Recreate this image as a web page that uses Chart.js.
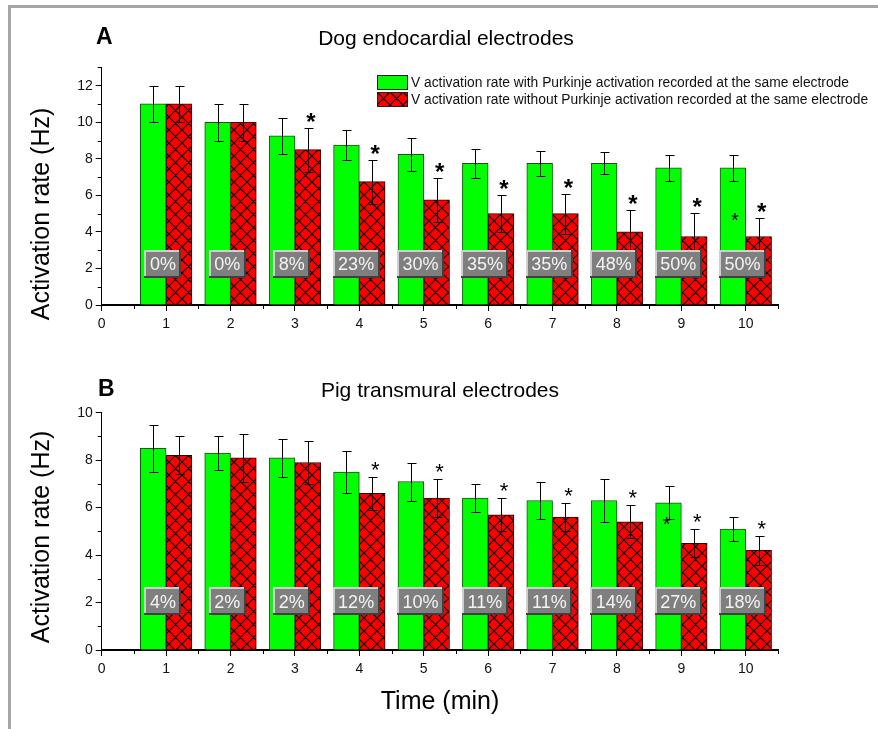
<!DOCTYPE html>
<html>
<head>
<meta charset="utf-8">
<title>Activation rate</title>
<script src="https://cdn.jsdelivr.net/npm/chart.js@4.4.1/dist/chart.umd.min.js"></script>
<style>
  body { margin: 0; background: #fff; font-family: 'Liberation Sans', Arial, sans-serif; color: #000; }
  #page { position: relative; width: 878px; height: 729px; overflow: hidden; background: #fff; }
  .plot { position: absolute; left: 0; }
  .txt { position: absolute; white-space: nowrap; line-height: 1; }
  .panel { font-weight: bold; font-size: 23px; }
  .title { font-size: 21px; transform: translateX(-50%); }
  .ytitle { font-size: 25px; transform: translate(-50%, -50%) rotate(-90deg); }
  .xtitle { font-size: 25px; transform: translateX(-50%); }
  .legtxt { font-size: 13.8px; color: #111; }
  .frame { position: absolute; background: #a6a6a6; }
</style>
</head>
<body>
<div id="page">
  <div class="frame" style="left:8px;top:5px;width:870px;height:3px"></div>
  <div class="frame" style="left:8px;top:5px;width:3px;height:724px"></div>

  <canvas id="chartA" class="plot" width="878" height="345" style="top:0"></canvas>
  <canvas id="chartB" class="plot" width="878" height="345" style="top:345px"></canvas>

  <div class="txt panel" style="left:96px;top:25px">A</div>
  <div class="txt title" style="left:446px;top:27px">Dog endocardial electrodes</div>
  <div class="txt panel" style="left:98px;top:377px">B</div>
  <div class="txt title" style="left:440px;top:379px">Pig transmural electrodes</div>

  <div class="txt ytitle" style="left:40px;top:214px">Activation rate (Hz)</div>
  <div class="txt ytitle" style="left:40px;top:537px">Activation rate (Hz)</div>
  <div class="txt xtitle" style="left:440px;top:688px">Time (min)</div>

  <div style="position:absolute;left:377px;top:75px;width:29px;height:13px;background:#00ff00;border:1px solid #222"></div>
  <canvas id="swatchRed" width="31" height="15" style="position:absolute;left:377px;top:92px"></canvas>
  <div class="txt legtxt" style="left:411px;top:75.5px">V activation rate with Purkinje activation recorded at the same electrode</div>
  <div class="txt legtxt" style="left:411px;top:92.5px">V activation rate without Purkinje activation recorded at the same electrode</div>
</div>

<script>
// --- data ---
const minutes = [1, 2, 3, 4, 5, 6, 7, 8, 9, 10];

// A: dog endocardial electrodes
const dogWith = [11, 10, 9.25, 8.75, 8.25, 7.75, 7.75, 7.75, 7.5, 7.5];
const dogWithErr = [1, 1, 1, 0.8, 0.9, 0.8, 0.7, 0.6, 0.7, 0.7];
const dogWithout = [11, 10, 8.5, 6.75, 5.75, 5, 5, 4, 3.75, 3.75];
const dogWithoutErr = [1, 1, 1.2, 1.2, 1.2, 1, 1.1, 1.2, 1.3, 1];
const dogPercent = ['0%', '0%', '8%', '23%', '30%', '35%', '35%', '48%', '50%', '50%'];
const dogSignificant = [false, false, true, true, true, true, true, true, true, true];

// B: pig transmural electrodes
const pigWith = [8.5, 8.3, 8.1, 7.5, 7.1, 6.4, 6.3, 6.3, 6.2, 5.1];
const pigWithErr = [1, 0.7, 0.8, 0.9, 0.8, 0.6, 0.8, 0.9, 0.7, 0.5];
const pigWithout = [8.2, 8.1, 7.9, 6.6, 6.4, 5.7, 5.6, 5.4, 4.5, 4.2];
const pigWithoutErr = [0.8, 1, 0.9, 0.7, 0.8, 0.7, 0.6, 0.7, 0.6, 0.6];
const pigPercent = ['4%', '2%', '2%', '12%', '10%', '11%', '11%', '14%', '27%', '18%'];
const pigSignificant = [false, false, false, true, true, true, true, true, true, true];

// axis ticks
const xTicks = [0, 1, 2, 3, 4, 5, 6, 7, 8, 9, 10];
const yTicksA = [0, 2, 4, 6, 8, 10, 12];
const yTicksB = [0, 2, 4, 6, 8, 10];

const FONT = "'Liberation Sans', Arial, sans-serif";
Chart.defaults.font.family = FONT;

// red fill with black diamond cross-hatch
function makeHatch(ctx) {
    const s = 13;
    const c = document.createElement('canvas');
    c.width = s; c.height = s;
    const g = c.getContext('2d');
    g.fillStyle = '#ff0000';
    g.fillRect(0, 0, s, s);
    g.strokeStyle = '#000';
    g.lineWidth = 1.1;
    g.beginPath();
    for (let k = -1; k <= 1; k++) {
        g.moveTo(k * s - 2, -2); g.lineTo(k * s + s + 2, s + 2);
        g.moveTo(k * s + s + 2, -2); g.lineTo(k * s - 2, s + 2);
    }
    g.stroke();
    return ctx.createPattern(c, 'repeat');
}

// error bars, percentage boxes, asterisks, minor ticks
const overlay = {
    id: 'overlay',
    afterDatasetsDraw(chart, args, o) {
        const ctx = chart.ctx;
        const xs = chart.scales.x;
        const ys = chart.scales.y;
        ctx.save();

        // error bars
        ctx.strokeStyle = '#000';
        ctx.lineWidth = 1;
        chart.data.datasets.forEach((ds, di) => {
            const errs = o.errors[di];
            chart.getDatasetMeta(di).data.forEach((bar, i) => {
                const v = ds.data[i].y;
                const cx = Math.round(bar.x) + 0.5;
                const t = Math.round(ys.getPixelForValue(v + errs[i])) + 0.5;
                const b = Math.round(ys.getPixelForValue(v - errs[i])) + 0.5;
                ctx.beginPath();
                ctx.moveTo(cx, t); ctx.lineTo(cx, b);
                ctx.moveTo(cx - 4, t); ctx.lineTo(cx + 5, t);
                ctx.moveTo(cx - 4, b); ctx.lineTo(cx + 5, b);
                ctx.stroke();
            });
        });

        // percentage boxes
        ctx.font = '18px ' + FONT;
        ctx.textAlign = 'center';
        ctx.textBaseline = 'alphabetic';
        o.labels.forEach((txt, i) => {
            const cx = xs.getPixelForValue(minutes[i] + o.labelShift);
            const cy = ys.getPixelForValue(o.labelY);
            const w = Math.round(ctx.measureText(txt).width + 11);
            const h = 28;
            const l = Math.round(cx - w / 2);
            const t = Math.round(cy - h / 2);
            ctx.fillStyle = '#7f7f7f';
            ctx.fillRect(l, t, w, h);
            ctx.fillStyle = '#cfcfcf';
            ctx.fillRect(l, t, w, 2);
            ctx.fillRect(l, t, 2, h);
            ctx.fillStyle = '#404040';
            ctx.fillRect(l, t + h - 2, w, 2);
            ctx.fillRect(l + w - 2, t, 2, h);
            ctx.fillStyle = '#f4f4f4';
            ctx.fillText(txt, cx, cy + 6.5);
        });

        // significance asterisks above the red bars
        const red = chart.getDatasetMeta(1).data;
        const redVals = chart.data.datasets[1].data;
        ctx.fillStyle = '#000';
        ctx.font = o.starFont;
        o.stars.forEach((on, i) => {
            if (!on) return;
            const top = ys.getPixelForValue(redVals[i].y + o.errors[1][i]);
            ctx.fillText('*', red[i].x + 3, top - o.starGap + 0.59 * o.starSize);
        });
        ctx.font = '20px ' + FONT;
        o.extra.forEach(p => {
            ctx.fillText('*', xs.getPixelForValue(p.x), ys.getPixelForValue(p.y) + 0.59 * 20);
        });

        ctx.restore();
    },
    afterDraw(chart) {
        const ctx = chart.ctx;
        const xs = chart.scales.x;
        const ys = chart.scales.y;
        const a = chart.chartArea;
        ctx.save();
        ctx.strokeStyle = '#000';
        ctx.lineWidth = 1;
        ctx.beginPath();
        for (let v = 0.5; v <= xs.max + 0.01; v += 1) {
            const px = Math.round(xs.getPixelForValue(v)) + 0.5;
            ctx.moveTo(px, a.bottom); ctx.lineTo(px, a.bottom + 4);
        }
        for (let v = 1; v <= ys.max + 0.01; v += 2) {
            const py = Math.round(ys.getPixelForValue(v)) + 0.5;
            ctx.moveTo(a.left, py); ctx.lineTo(a.left - 4, py);
        }
        ctx.stroke();
        ctx.restore();
    }
};

function buildChart(id, withVals, withoutVals, yMax, yTicks, plotTop, extra) {
    const canvas = document.getElementById(id);
    const ctx = canvas.getContext('2d');
    const hatch = makeHatch(ctx);
    return new Chart(ctx, {
        type: 'bar',
        data: {
            datasets: [{
                label: 'V activation rate with Purkinje activation recorded at the same electrode',
                data: minutes.map((m, i) => ({ x: m - 0.2, y: withVals[i] })),
                backgroundColor: '#00ff00',
                borderColor: '#1d4d1d',
                borderWidth: 1,
                borderSkipped: 'bottom',
                grouped: false,
                barPercentage: 1,
                categoryPercentage: 1
            }, {
                label: 'V activation rate without Purkinje activation recorded at the same electrode',
                data: minutes.map((m, i) => ({ x: m + 0.2, y: withoutVals[i] })),
                backgroundColor: hatch,
                borderColor: '#300000',
                borderWidth: 1,
                borderSkipped: 'bottom',
                grouped: false,
                barPercentage: 1,
                categoryPercentage: 1
            }]
        },
        options: {
            responsive: false,
            animation: false,
            devicePixelRatio: 1,
            layout: { padding: { left: 41.7, right: 100, top: plotTop, bottom: 5 } },
            scales: {
                x: {
                    type: 'linear',
                    min: 0,
                    max: 10.5,
                    offset: false,
                    z: 1,
                    afterFit: s => { s.height = 35; },
                    afterBuildTicks: s => { s.ticks = xTicks.map(v => ({ value: v })); },
                    ticks: { color: '#111', font: { size: 14 }, padding: 5, maxRotation: 0 },
                    grid: { offset: false, drawOnChartArea: false, color: '#000', tickLength: 6, lineWidth: 1 },
                    border: { color: '#000', width: 2 }
                },
                y: {
                    min: 0,
                    max: yMax,
                    z: 1,
                    afterFit: s => { s.width = 60; },
                    afterBuildTicks: s => { s.ticks = yTicks.map(v => ({ value: v })); },
                    ticks: { color: '#111', font: { size: 14 }, padding: 3 },
                    grid: { drawOnChartArea: false, color: '#000', tickLength: 6, lineWidth: 1 },
                    border: { color: '#000', width: 1 }
                }
            },
            plugins: {
                legend: { display: false },
                tooltip: { enabled: false },
                overlay: extra
            }
        },
        plugins: [overlay]
    });
}

buildChart('chartA', dogWith, dogWithout, 13, yTicksA, 67.4, {
    errors: [dogWithErr, dogWithoutErr],
    labels: dogPercent,
    labelShift: -0.05,
    labelY: 2.25,
    stars: dogSignificant,
    starFont: 'bold 24px ' + FONT,
    starSize: 24,
    starGap: 12,
    extra: [{ x: 9.83, y: 4.9 }]
});

buildChart('chartB', pigWith, pigWithout, 10, yTicksB, 67.7, {
    errors: [pigWithErr, pigWithoutErr],
    labels: pigPercent,
    labelShift: -0.05,
    labelY: 2.05,
    stars: pigSignificant,
    starFont: '22px ' + FONT,
    starSize: 22,
    starGap: 13,
    extra: [{ x: 8.77, y: 5.5 }]
});

// legend swatch for the hatched series
(function () {
    const c = document.getElementById('swatchRed');
    const g = c.getContext('2d');
    g.fillStyle = makeHatch(g);
    g.fillRect(0, 0, c.width, c.height);
    g.strokeStyle = '#222';
    g.lineWidth = 1;
    g.strokeRect(0.5, 0.5, c.width - 1, c.height - 1);
})();
</script>
</body>
</html>
